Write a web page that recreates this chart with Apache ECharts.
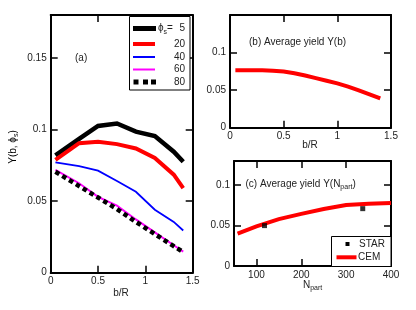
<!DOCTYPE html>
<html><head><meta charset="utf-8">
<script src="https://cdn.jsdelivr.net/npm/echarts@6/dist/echarts.min.js"></script>
<style>html,body{margin:0;padding:0;background:#fff}#c{width:416px;height:310px}</style>
</head><body><div id="c"></div>
<script>
// ---- data ----
const bR = [0.05, 0.3, 0.5, 0.7, 0.9, 1.1, 1.3, 1.4];
const phi5  = [0.082, 0.0935, 0.1025, 0.1042, 0.0985, 0.0955, 0.0845, 0.0775];
const phi20 = [0.0788, 0.0905, 0.0915, 0.0898, 0.0868, 0.0802, 0.0685, 0.059];
const phi40 = [0.077, 0.0745, 0.0713, 0.064, 0.0565, 0.044, 0.0355, 0.0295];
const phi60 = [0.0718, 0.0625, 0.053, 0.0468, 0.0372, 0.0282, 0.0192, 0.0147];
const phi80 = [0.0705, 0.0605, 0.0525, 0.0445, 0.0355, 0.027, 0.0185, 0.0145];
const phiLabels = ['5', '20', '40', '60', '80'];

const bAvgX = [0.05, 0.2, 0.3, 0.4, 0.5, 0.6, 0.7, 0.8, 0.9, 1.0, 1.1, 1.2, 1.3, 1.4];
const bAvgY = [0.0765, 0.0765, 0.0763, 0.0758, 0.0748, 0.0725, 0.0695, 0.066, 0.0625, 0.059, 0.0547, 0.0498, 0.0445, 0.039];

const npart = [58, 100, 150, 200, 250, 300, 350, 400];
const cem   = [0.040, 0.049, 0.058, 0.0645, 0.0705, 0.0755, 0.0772, 0.078];
const starN = [118, 337];
const starY = [0.050, 0.071];

const xTicksA = [0, 0.5, 1, 1.5];
const xTicksC = [100, 200, 300, 400];

// ---- chart ----
const FONT = '"Liberation Sans", Arial, sans-serif';
const chart = echarts.init(document.getElementById('c'), null, {renderer: 'canvas'});
const zip = (xs, ys) => xs.map((x, i) => [x, ys[i]]);

const xAxes = [], yAxes = [];
function axisBase(gi, pos, min, max, interval, showLabel, extra) {
  const a = {
    type: 'value', gridIndex: gi, position: pos, min: min, max: max,
    axisLine: {show: true, onZero: false, lineStyle: {color: '#000', width: 2}},
    axisTick: {show: true, inside: true, length: 7, lineStyle: {color: '#000', width: 1.5}},
    axisLabel: {show: showLabel, color: '#222', fontSize: 10, fontFamily: FONT, margin: 4, showMaxLabel: true},
    splitLine: {show: false}
  };
  if (interval != null) a.interval = interval;
  if (extra) extra(a);
  return a;
}
function addX(gi, min, max, interval, extra) {
  xAxes.push(axisBase(gi, 'bottom', min, max, interval, true, extra));
  xAxes.push(axisBase(gi, 'top', min, max, interval, false, extra));
}
function addY(gi, min, max, interval, extra) {
  yAxes.push(axisBase(gi, 'left', min, max, interval, true, extra));
  yAxes.push(axisBase(gi, 'right', min, max, interval, false, extra));
}
const hideMax = a => { a.axisLabel.showMaxLabel = false; };
addX(0, 0, 1.5, 0.5);
addY(0, 0, 0.18, 0.05, hideMax);
addX(1, 0, 1.5, 0.5);
addY(1, 0, 0.15, 0.05, hideMax);
addX(2, 50, 400, null, a => { a.axisLabel.customValues = xTicksC; a.axisTick.customValues = xTicksC; });
addY(2, 0, 0.13, 0.05, hideMax);

const lineS = (xi, yi, data, color, width, extra) => Object.assign({
  type: 'line', xAxisIndex: xi, yAxisIndex: yi, data: data, showSymbol: false, symbol: 'none',
  lineStyle: {color: color, width: width, cap: 'butt', join: 'miter'}, z: 3, silent: true
}, extra || {});

const series = [
  lineS(0, 0, zip(bR, phi5), '#000', 4.5),
  lineS(0, 0, zip(bR, phi20), '#ff0000', 4),
  lineS(0, 0, zip(bR, phi40), '#0000ff', 1.8),
  lineS(0, 0, zip(bR, phi60), '#ff00ff', 2),
  lineS(0, 0, zip(bR, phi80), '#000', 4.5, {lineStyle: {color: '#000', width: 4.5, type: [4.5, 3.5], cap: 'butt'}}),
  lineS(2, 2, zip(bAvgX, bAvgY), '#ff0000', 4),
  lineS(4, 4, zip(npart, cem), '#ff0000', 4),
  {type: 'scatter', xAxisIndex: 4, yAxisIndex: 4, data: zip(starN, starY), symbol: 'rect', symbolSize: 5,
   itemStyle: {color: '#000'}, z: 4, silent: true}
];

const T = (x, y, text, opt) => ({
  type: 'text', x: x, y: y, z: 10, silent: true,
  style: Object.assign({text: text, fill: '#222', font: '10px ' + FONT, align: 'left', verticalAlign: 'middle'}, opt || {})
});
const rich = {
  n: {fontSize: 10, fontFamily: FONT, color: '#222', lineHeight: 14},
  s: {fontSize: 7, fontFamily: FONT, color: '#222', padding: [7, 0, 0, 0], lineHeight: 7}
};

const legendY = [28.5, 44, 57, 69.5, 82];
const graphic = [
  // legend (a)
  {type: 'rect', shape: {x: 129.5, y: 16.5, width: 60.5, height: 73.5}, style: {fill: '#fff', stroke: '#000', lineWidth: 1}, z: 8},
  {type: 'line', shape: {x1: 133, y1: legendY[0], x2: 156, y2: legendY[0]}, style: {stroke: '#000', lineWidth: 5}, z: 9},
  {type: 'line', shape: {x1: 133, y1: legendY[1], x2: 155, y2: legendY[1]}, style: {stroke: '#ff0000', lineWidth: 4}, z: 9},
  {type: 'line', shape: {x1: 133, y1: legendY[2], x2: 155, y2: legendY[2]}, style: {stroke: '#0000ff', lineWidth: 2}, z: 9},
  {type: 'line', shape: {x1: 133, y1: legendY[3], x2: 155, y2: legendY[3]}, style: {stroke: '#ff00ff', lineWidth: 2}, z: 9},
  {type: 'rect', shape: {x: 133.5, y: legendY[4] - 2.5, width: 5, height: 5}, style: {fill: '#000'}, z: 9},
  {type: 'rect', shape: {x: 143, y: legendY[4] - 2.5, width: 5, height: 5}, style: {fill: '#000'}, z: 9},
  {type: 'rect', shape: {x: 151, y: legendY[4] - 2.5, width: 5, height: 5}, style: {fill: '#000'}, z: 9},
  T(158, legendY[0], '{n|ϕ}{s|s}{n|=}', {rich: rich}),
  T(185, legendY[0], phiLabels[0], {align: 'right'}),
  T(185, legendY[1], phiLabels[1], {align: 'right'}),
  T(185, legendY[2], phiLabels[2], {align: 'right'}),
  T(185, legendY[3], phiLabels[3], {align: 'right'}),
  T(185, legendY[4], phiLabels[4], {align: 'right'}),
  T(75, 58, '(a)'),
  // axis titles (a)
  {type: 'text', x: 13, y: 147, rotation: Math.PI / 2, z: 10, silent: true,
   style: {text: '{n|Y(b, ϕ}{s|s}{n|)}', rich: rich, align: 'center', verticalAlign: 'middle'}},
  T(121, 293, 'b/R', {align: 'center'}),
  // panel (b)
  T(249, 42, '(b) Average yield Y(b)'),
  T(310, 145, 'b/R', {align: 'center'}),
  // panel (c)
  T(245.5, 184, '{n|(c) Average yield Y(N}{s|part}{n|)}', {rich: rich}),
  T(303, 285, '{n|N}{s|part}', {rich: rich}),
  // legend (c)
  {type: 'rect', shape: {x: 331.5, y: 236.5, width: 59.5, height: 30}, style: {fill: '#fff', stroke: '#000', lineWidth: 1}, z: 8},
  {type: 'rect', shape: {x: 345.5, y: 242, width: 4, height: 4}, style: {fill: '#000'}, z: 9},
  T(359, 244.5, 'STAR'),
  {type: 'line', shape: {x1: 336.5, y1: 257.3, x2: 356.5, y2: 257.3}, style: {stroke: '#ff0000', lineWidth: 4}, z: 9},
  T(358, 257.5, 'CEM')
];

chart.setOption({
  animation: false,
  backgroundColor: '#fff',
  grid: [
    {left: 50.7, top: 15, width: 142, height: 257.7},
    {left: 230, top: 15, width: 161, height: 112.7},
    {left: 234, top: 161, width: 157, height: 105}
  ],
  xAxis: xAxes,
  yAxis: yAxes,
  series: series,
  graphic: graphic
});
</script>
</body></html>
